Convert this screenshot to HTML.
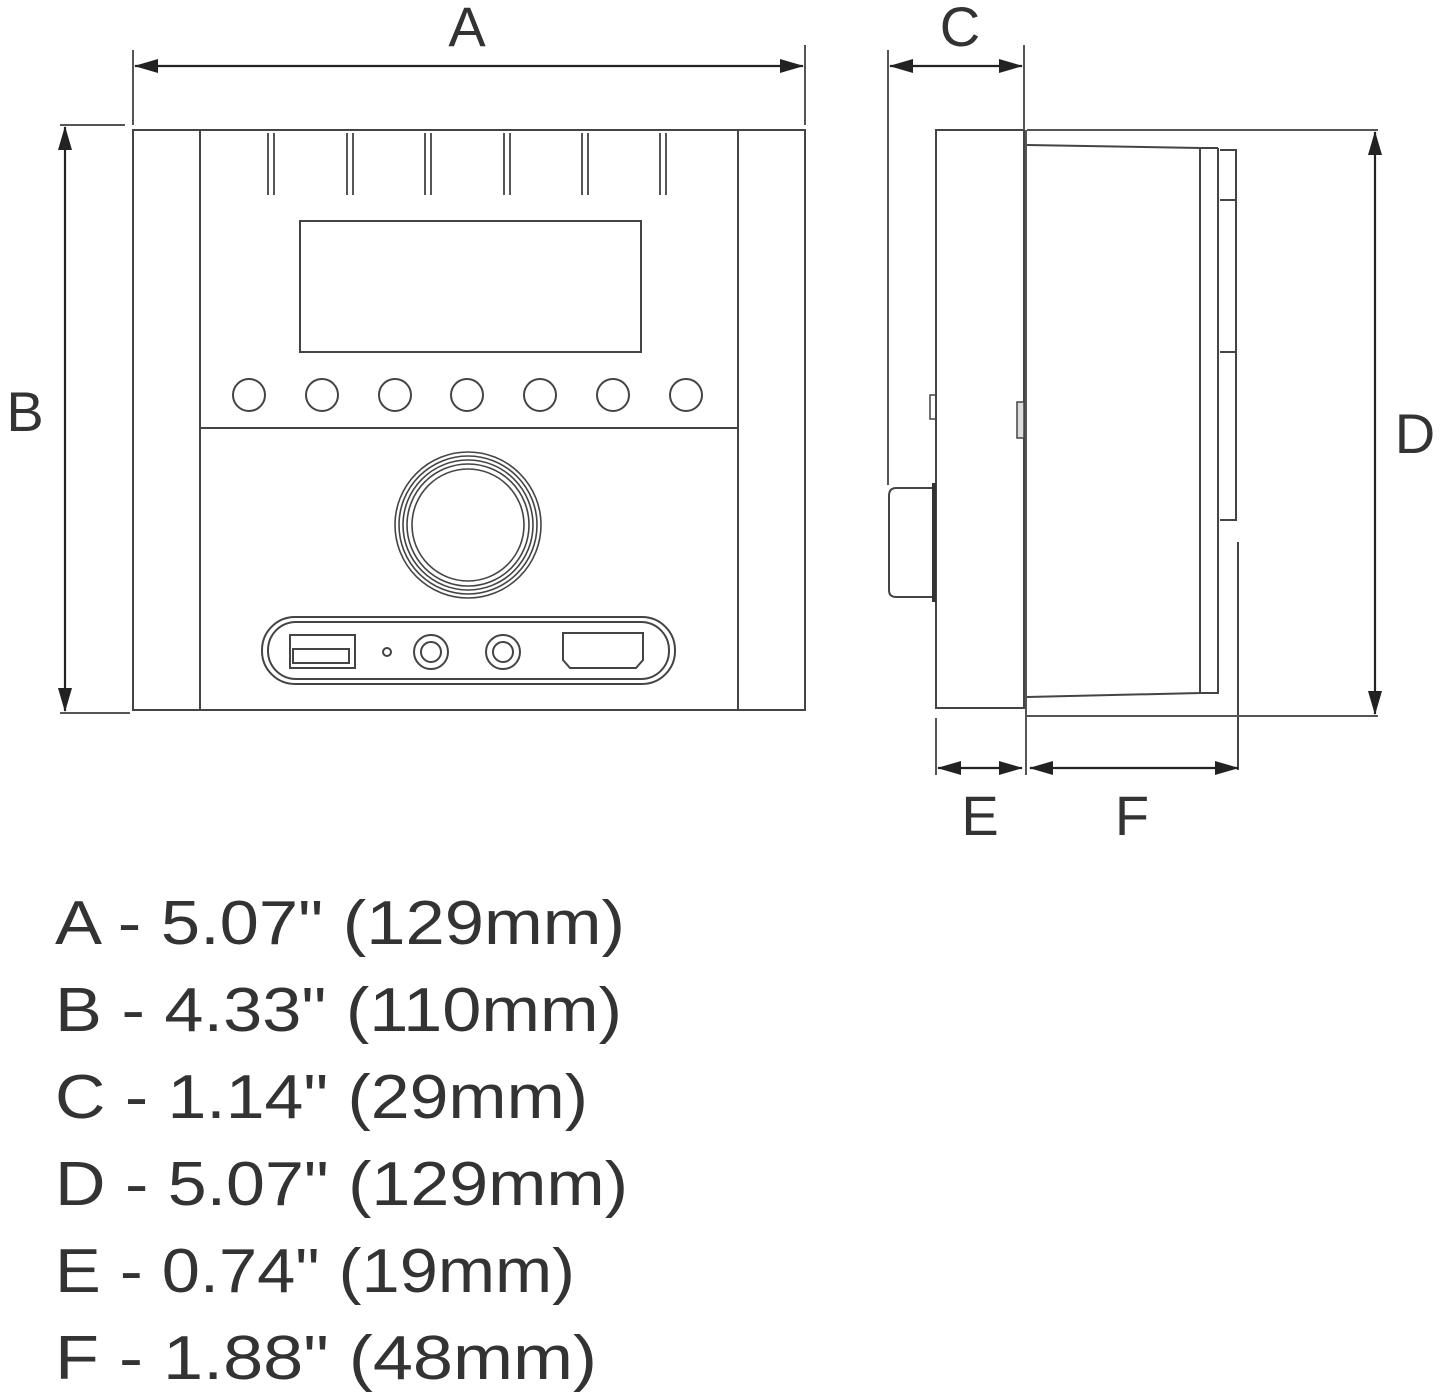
<!DOCTYPE html>
<html><head><meta charset="utf-8"><style>
html,body{margin:0;padding:0;background:#fff;}
svg{display:block;}
</style></head><body>
<svg width="1445" height="1394" viewBox="0 0 1445 1394" xmlns="http://www.w3.org/2000/svg">
<defs>
<marker id="ar" markerWidth="24" markerHeight="14" refX="23" refY="7" orient="auto-start-reverse" markerUnits="userSpaceOnUse">
<path d="M0,0 L24,7 L0,14 Z" fill="#222"/>
</marker>
</defs>
<g fill="none" stroke="#444" stroke-width="2">
<rect x="133" y="130" width="672" height="580"/>
<line x1="200" y1="130" x2="200" y2="710"/>
<line x1="738" y1="130" x2="738" y2="710"/>
<line x1="200" y1="428" x2="738" y2="428"/>
<g stroke-width="1.8">
<path d="M268,133V195M274,133V195M347,133V195M353,133V195M425,133V195M431,133V195M504,133V195M510,133V195M582,133V195M588,133V195M660,133V195M666,133V195"/>
</g>
<rect x="300" y="221" width="341" height="131"/>
<circle cx="249" cy="395" r="16"/><circle cx="322" cy="395" r="16"/><circle cx="395" cy="395" r="16"/>
<circle cx="467" cy="395" r="16"/><circle cx="540" cy="395" r="16"/><circle cx="613" cy="395" r="16"/><circle cx="686" cy="395" r="16"/>
<g stroke-width="1.6">
<circle cx="468" cy="525" r="73"/><circle cx="468" cy="525" r="69"/><circle cx="468" cy="525" r="65"/><circle cx="468" cy="525" r="61"/><circle cx="468" cy="525" r="56"/>
</g>
<rect x="262" y="617" width="413" height="67" rx="33"/>
<rect x="268" y="622" width="401" height="57" rx="28"/>
<rect x="290" y="635" width="65" height="33"/>
<rect x="293" y="649" width="56" height="14"/>
<circle cx="387" cy="652" r="4"/>
<circle cx="431" cy="652" r="17"/><circle cx="431" cy="652" r="10"/>
<circle cx="503" cy="652" r="17"/><circle cx="503" cy="652" r="10"/>
<path d="M563,633H643V660L636,668H570L563,660Z"/>
<rect x="936" y="130" width="88" height="578"/>
<path d="M1027,145L1200,148V693L1027,697"/>
<line x1="1200" y1="148" x2="1218" y2="148"/>
<path d="M1218,148V693H1200"/>
<path d="M1220,150H1236V520H1220"/>
<line x1="1220" y1="200" x2="1236" y2="200"/>
<line x1="1220" y1="352" x2="1236" y2="352"/>
<line x1="1238" y1="542" x2="1238" y2="770"/>
<rect x="930" y="395" width="6" height="24" stroke-width="1.5"/>
<rect x="1017" y="402" width="7" height="36" stroke-width="1.5" fill="#ddd"/>
<path d="M934,488H896Q889,488 889,496V590Q889,597 896,597H934"/>
<line x1="934" y1="483" x2="934" y2="602" stroke="#333" stroke-width="4"/>
<g stroke="#555" stroke-width="2">
<line x1="133" y1="50" x2="133" y2="125"/><line x1="805" y1="45" x2="805" y2="125"/>
<line x1="60" y1="125" x2="125" y2="125"/><line x1="60" y1="713" x2="130" y2="713"/>
<line x1="888" y1="50" x2="888" y2="485"/><line x1="1024" y1="45" x2="1024" y2="130"/>
<line x1="1026" y1="130" x2="1026" y2="775"/>
<line x1="1027" y1="130" x2="1378" y2="130"/><line x1="1027" y1="716" x2="1378" y2="716"/>
<line x1="936" y1="718" x2="936" y2="775"/>
</g>
</g>
<g stroke="#222" stroke-width="2.2">
<line x1="135" y1="66" x2="803" y2="66" marker-start="url(#ar)" marker-end="url(#ar)"/>
<line x1="65" y1="127" x2="65" y2="711" marker-start="url(#ar)" marker-end="url(#ar)"/>
<line x1="890" y1="66" x2="1022" y2="66" marker-start="url(#ar)" marker-end="url(#ar)"/>
<line x1="1375" y1="132" x2="1375" y2="714" marker-start="url(#ar)" marker-end="url(#ar)"/>
<line x1="938" y1="768" x2="1022" y2="768" marker-start="url(#ar)" marker-end="url(#ar)"/>
<line x1="1030" y1="768" x2="1238" y2="768" marker-start="url(#ar)" marker-end="url(#ar)"/>
</g>
<g font-family="Liberation Sans, sans-serif" font-size="56" fill="#333" text-anchor="middle">
<text x="467" y="46">A</text>
<text x="25" y="431">B</text>
<text x="960" y="46">C</text>
<text x="1415" y="453">D</text>
<text x="980" y="835">E</text>
<text x="1132" y="835">F</text>
</g>
<g font-family="Liberation Sans, sans-serif" font-size="62" fill="#333">
<text x="55" y="944" textLength="570" lengthAdjust="spacingAndGlyphs">A - 5.07" (129mm)</text>
<text x="55" y="1031" textLength="567" lengthAdjust="spacingAndGlyphs">B - 4.33" (110mm)</text>
<text x="55" y="1118" textLength="533" lengthAdjust="spacingAndGlyphs">C - 1.14" (29mm)</text>
<text x="55" y="1205" textLength="573" lengthAdjust="spacingAndGlyphs">D - 5.07" (129mm)</text>
<text x="55" y="1292" textLength="520" lengthAdjust="spacingAndGlyphs">E - 0.74" (19mm)</text>
<text x="55" y="1379" textLength="542" lengthAdjust="spacingAndGlyphs">F - 1.88" (48mm)</text>
</g>
</svg>
</body></html>
